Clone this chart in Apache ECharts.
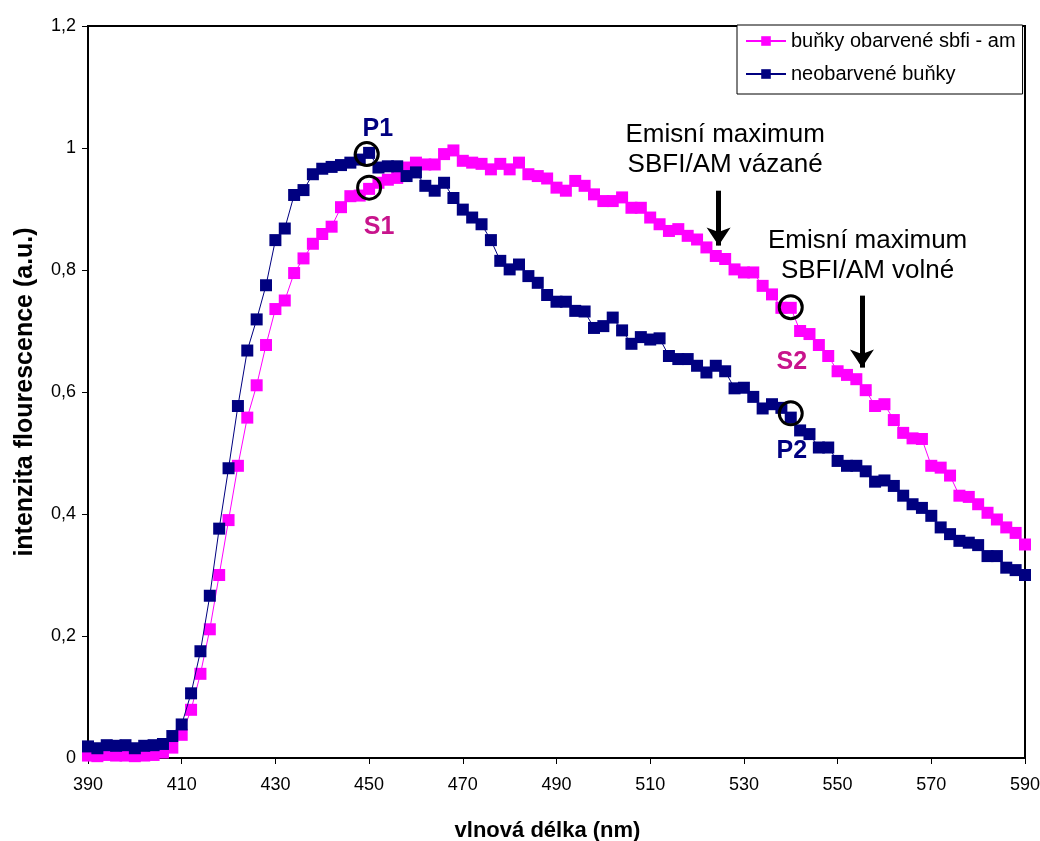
<!DOCTYPE html>
<html><head><meta charset="utf-8">
<script src="https://cdn.jsdelivr.net/npm/echarts@6/dist/echarts.min.js"></script>
<style>html,body{margin:0;padding:0;background:#fff}#c{width:1040px;height:841px}</style>
</head><body><div id="c"></div>
<script>
// ---- data ----
const wavelengths = [390,392,394,396,398,400,402,404,406,408,
 410,412,414,416,418,420,422,424,426,428,
 430,432,434,436,438,440,442,444,446,448,
 450,452,454,456,458,460,462,464,466,468,
 470,472,474,476,478,480,482,484,486,488,
 490,492,494,496,498,500,502,504,506,508,
 510,512,514,516,518,520,522,524,526,528,
 530,532,534,536,538,540,542,544,546,548,
 550,552,554,556,558,560,562,564,566,568,
 570,572,574,576,578,580,582,584,586,588,
 590];
const stainedCells = [0.004,0.003,0.005,0.004,0.004,0.003,0.004,0.005,0.009,0.017,
 0.038,0.079,0.138,0.211,0.300,0.390,0.479,0.558,0.611,0.677,
 0.736,0.750,0.795,0.819,0.843,0.859,0.871,0.903,0.921,0.922,
 0.933,0.943,0.948,0.951,0.968,0.976,0.973,0.973,0.990,0.996,
 0.979,0.976,0.974,0.965,0.974,0.965,0.976,0.957,0.954,0.950,
 0.935,0.930,0.946,0.938,0.924,0.913,0.913,0.919,0.902,0.902,
 0.886,0.875,0.864,0.867,0.856,0.850,0.837,0.823,0.818,0.801,
 0.796,0.796,0.774,0.760,0.738,0.738,0.700,0.695,0.677,0.659,
 0.634,0.628,0.621,0.603,0.577,0.580,0.554,0.533,0.524,0.523,
 0.479,0.476,0.463,0.430,0.428,0.416,0.402,0.391,0.378,0.369,
 0.350];
const unstainedCells = [0.019,0.016,0.021,0.020,0.021,0.016,0.020,0.021,0.023,0.036,
 0.055,0.106,0.175,0.266,0.376,0.475,0.577,0.668,0.719,0.775,
 0.849,0.868,0.923,0.931,0.957,0.966,0.969,0.972,0.976,0.981,
 0.992,0.968,0.970,0.970,0.954,0.960,0.938,0.930,0.943,0.918,
 0.899,0.886,0.875,0.849,0.815,0.801,0.809,0.790,0.779,0.759,
 0.748,0.748,0.733,0.732,0.705,0.708,0.722,0.701,0.679,0.690,
 0.686,0.688,0.659,0.654,0.654,0.643,0.632,0.643,0.634,0.606,
 0.607,0.592,0.573,0.580,0.574,0.558,0.537,0.531,0.509,0.509,
 0.487,0.479,0.479,0.470,0.453,0.455,0.446,0.430,0.416,0.410,
 0.397,0.378,0.367,0.356,0.353,0.349,0.331,0.331,0.312,0.308,
 0.300];
const seriesNames = ['buňky obarvené sbfi - am', 'neobarvené buňky'];
const xRange = [390, 590, 20];
const yRange = [0, 1.2, 0.2];
const xTitle = 'vlnová délka (nm)';
const yTitle = 'intenzita flourescence (a.u.)';
// marked points (data coordinates)
const stainedMarks = [ {label:'S1', at:[450, 0.935]}, {label:'S2', at:[540, 0.739]} ];
const unstainedMarks = [ {label:'P1', at:[449.5, 0.990]}, {label:'P2', at:[540, 0.565]} ];
const notes = [
  {text:'Emisní maximum\nSBFI/AM vázané', at:[526, 0.997], arrow:[[524.6, 0.930],[524.6, 0.840]]},
  {text:'Emisní maximum\nSBFI/AM volné', at:[556.4, 0.823], arrow:[[555.2, 0.758],[555.2, 0.640]]}
];

// ---- chart ----
const FONT = '"Liberation Sans", Arial, sans-serif';
const PINK = '#FF00FF', NAVY = '#000080', SCOL = '#C8148C';
const labelOffsets = {S1:[10,39], S2:[1,55], P1:[11,-25], P2:[1,38]};

function circleMark(m, color) {
  return {
    coord: m.at, symbol: 'circle', symbolSize: 23,
    itemStyle: {color: 'rgba(0,0,0,0)', borderColor: '#000', borderWidth: 3},
    label: {show: true, position: 'inside', offset: labelOffsets[m.label], formatter: m.label,
      fontFamily: FONT, fontWeight: 'bold', fontSize: 25, color: color}
  };
}
const pairs = arr => wavelengths.map((w, i) => [w, arr[i]]);

const chart = echarts.init(document.getElementById('c'), null, {renderer: 'canvas'});
chart.setOption({
  animation: false,
  backgroundColor: '#fff',
  textStyle: {fontFamily: FONT},
  grid: {left: 88, right: 15, top: 26, bottom: 83, containLabel: false, outerBoundsMode: 'none',
    show: true, borderColor: '#000', borderWidth: 2, backgroundColor: 'transparent'},
  legend: {
    data: seriesNames, orient: 'vertical', left: 737, top: 25,
    padding: [6, 7, 10, 8], itemGap: 13, itemWidth: 40, itemHeight: 12,
    borderColor: '#000', borderWidth: 1, borderRadius: 0, backgroundColor: '#fff',
    textStyle: {fontFamily: FONT, fontSize: 20, color: '#000'}
  },
  xAxis: {
    type: 'value', min: xRange[0], max: xRange[1], interval: xRange[2],
    name: xTitle, nameLocation: 'middle', nameGap: 62,
    nameTextStyle: {fontFamily: FONT, fontWeight: 'bold', fontSize: 22, color: '#000', padding: [0, 18, 0, 0]},
    axisLine: {show: true, lineStyle: {color: '#000', width: 2}},
    axisTick: {show: true, inside: false, length: 6, lineStyle: {color: '#000', width: 1}},
    axisLabel: {fontFamily: FONT, fontSize: 18, color: '#000', margin: 18},
    splitLine: {show: false}
  },
  yAxis: {
    type: 'value', min: yRange[0], max: yRange[1], interval: yRange[2],
    name: yTitle, nameLocation: 'middle', nameGap: 50,
    nameTextStyle: {fontFamily: FONT, fontWeight: 'bold', fontSize: 25, color: '#000'},
    axisLine: {show: true, lineStyle: {color: '#000', width: 2}},
    axisTick: {show: true, inside: false, length: 6, lineStyle: {color: '#000', width: 1}},
    axisLabel: {fontFamily: FONT, fontSize: 18, color: '#000', margin: 12,
      formatter: v => String(Math.round(v * 10) / 10).replace('.', ',')},
    splitLine: {show: false}
  },
  series: [
    {
      name: seriesNames[0], type: 'line', data: pairs(stainedCells),
      symbol: 'rect', symbolSize: 12, showAllSymbol: true,
      lineStyle: {color: PINK, width: 1}, itemStyle: {color: PINK},
      emphasis: {disabled: true}, z: 2,
      markPoint: {silent: true, data: stainedMarks.map(m => circleMark(m, SCOL)).concat(
        notes.map(n => ({coord: n.at, symbol: 'circle', symbolSize: 1, itemStyle: {color: 'rgba(0,0,0,0)'},
          label: {show: true, position: 'inside', formatter: n.text, fontFamily: FONT, fontSize: 26, lineHeight: 30, color: '#000', align: 'center'}})))},
      markLine: {silent: true, symbol: ['none', 'arrow'], symbolSize: 18,
        lineStyle: {color: '#000', width: 5, type: 'solid'}, label: {show: false},
        data: notes.map(n => [{coord: n.arrow[0]}, {coord: n.arrow[1]}])}
    },
    {
      name: seriesNames[1], type: 'line', data: pairs(unstainedCells),
      symbol: 'rect', symbolSize: 12, showAllSymbol: true,
      lineStyle: {color: NAVY, width: 1}, itemStyle: {color: NAVY},
      emphasis: {disabled: true}, z: 3,
      markPoint: {silent: true, data: unstainedMarks.map(m => circleMark(m, NAVY))}
    }
  ]
});
</script></body></html>
